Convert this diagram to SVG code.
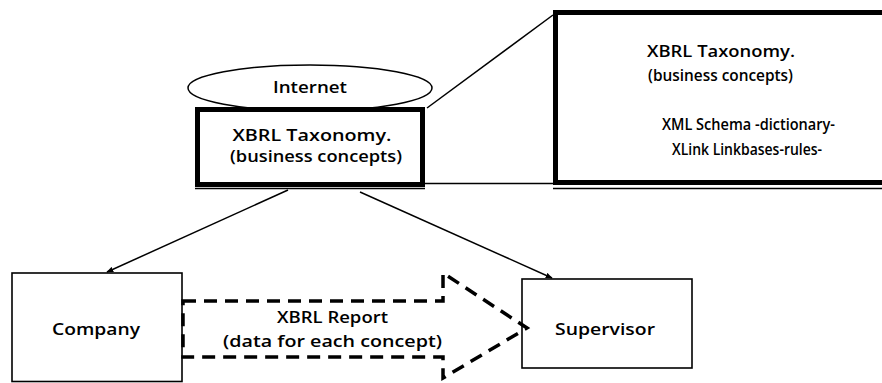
<svg xmlns="http://www.w3.org/2000/svg" width="882" height="383" viewBox="0 0 882 383">
<defs>
<style>
text{font-family:"Open Sans","Liberation Sans","DejaVu Sans",sans-serif;font-size:15.5px;font-weight:600;fill:#000;text-anchor:middle}
.box{fill:#fff;stroke:#000;stroke-width:1.6}
.thick{fill:#fff;stroke:#000;stroke-width:5}
.ln{fill:none;stroke:#000;stroke-width:1.5}
.dash{fill:none;stroke:#000;stroke-width:3.5;stroke-dasharray:13 8}
</style>
<marker id="ah" viewBox="0 0 10 10" refX="9" refY="5" markerWidth="7" markerHeight="7" orient="auto" markerUnits="userSpaceOnUse">
<path d="M0,1 L10,5 L0,9 z" fill="#000"/>
</marker>
</defs>
<rect width="882" height="383" fill="#fff"/>
<g id="connectors">
<line class="ln" x1="427" y1="108" x2="553" y2="15"/>
<line class="ln" x1="425" y1="183.5" x2="553" y2="183.5"/>
<line class="ln" x1="288" y1="190" x2="107" y2="272" marker-end="url(#ah)"/>
<line class="ln" x1="360" y1="192" x2="552" y2="278" marker-end="url(#ah)"/>
</g>
<g id="internet">
<ellipse cx="310" cy="88" rx="122" ry="23" fill="#fff" stroke="#000" stroke-width="1.5"/>
<text x="310" y="93" textLength="74" lengthAdjust="spacingAndGlyphs">Internet</text>
</g>
<g id="taxonomy">
<rect class="thick" x="197.5" y="109.5" width="225" height="75"/>
<line x1="195" y1="188.5" x2="425" y2="188.5" stroke="#000" stroke-width="1.5"/>
<text x="312" y="141" textLength="159" lengthAdjust="spacingAndGlyphs">XBRL Taxonomy.</text>
<text x="316" y="162" textLength="172" lengthAdjust="spacingAndGlyphs">(business concepts)</text>
</g>
<g id="taxonomy-detail">
<rect class="thick" x="555.5" y="12.5" width="340" height="170"/>
<line x1="553" y1="188.5" x2="882" y2="188.5" stroke="#000" stroke-width="1.5"/>
<text x="721" y="57" textLength="148" lengthAdjust="spacingAndGlyphs">XBRL Taxonomy.</text>
<text x="720.5" y="81" textLength="145" lengthAdjust="spacingAndGlyphs">(business concepts)</text>
<text x="748.5" y="130" textLength="173" lengthAdjust="spacingAndGlyphs">XML Schema -dictionary-</text>
<text x="747" y="155" textLength="150" lengthAdjust="spacingAndGlyphs">XLink Linkbases-rules-</text>
</g>
<g id="company">
<rect class="box" x="12" y="273" width="170" height="108.5"/>
<text x="96" y="335" textLength="88" lengthAdjust="spacingAndGlyphs">Company</text>
</g>
<g id="supervisor">
<rect class="box" x="522" y="279" width="170" height="89"/>
<text x="605" y="335" textLength="100" lengthAdjust="spacingAndGlyphs">Supervisor</text>
</g>
<g id="report">
<path class="dash" d="M183,301 H443 V273 L527,328 L443,378 V357 H183 Z"/>
<text x="332.5" y="323" textLength="111" lengthAdjust="spacingAndGlyphs">XBRL Report</text>
<text x="332.5" y="347" textLength="219" lengthAdjust="spacingAndGlyphs">(data for each concept)</text>
</g>
</svg>
